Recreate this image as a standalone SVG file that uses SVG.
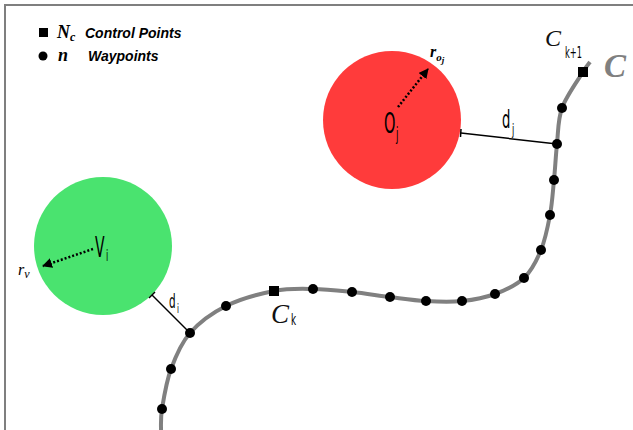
<svg xmlns="http://www.w3.org/2000/svg" width="633" height="430" viewBox="0 0 633 430">
<style>
.wp{fill:#000}
.cp{fill:#000}
.lbl{font-family:"DejaVu Sans","Liberation Sans",sans-serif;fill:#000}
.leg{font-family:"Liberation Sans",sans-serif;font-weight:bold;font-style:italic;font-size:14px;fill:#000}
.math{font-family:"Liberation Serif","DejaVu Serif",serif;font-style:italic}
.dist{stroke:#000;stroke-width:1.5;fill:none}
.dot{stroke:#000;stroke-width:2.5;stroke-dasharray:2 2;fill:none}
</style>
<defs>
<marker id="ah" viewBox="0 0 10 10" refX="9" refY="5" markerWidth="4" markerHeight="4" orient="auto" markerUnits="strokeWidth">
<path d="M0,0 L10,5 L0,10 z" fill="#000"/>
</marker>
</defs>
<rect width="633" height="430" fill="#fff"/>
<path d="M5,430 L5,5 L633,5" stroke="#7f7f7f" stroke-width="2" fill="none"/>

<g id="legend">
<rect x="39" y="28" width="9" height="9" fill="#000"/>
<text x="57" y="38" class="math" font-weight="bold" font-size="18">N<tspan font-size="12" dy="3">c</tspan></text>
<text x="85" y="38" class="leg">Control Points</text>
<circle cx="43" cy="56" r="4.5" fill="#000"/>
<text x="58" y="61" class="math" font-weight="bold" font-size="18">n</text>
<text x="88" y="61" class="leg">Waypoints</text>
</g>

<g id="obstacle-oj">
<circle cx="392" cy="120" r="69" fill="#FF3B3B"/>
<text transform="translate(384,133) scale(0.5,1)" class="lbl" font-size="29">O</text>
<text transform="translate(396,140) scale(0.5,1)" class="lbl" font-size="18">j</text>
<path d="M398,107 L428,69" class="dot" marker-end="url(#ah)"/>
<text x="430" y="57" class="math" font-weight="bold" font-size="16">r<tspan font-size="11" dy="4">o</tspan><tspan font-size="9" dy="2">j</tspan></text>
</g>

<g id="vehicle-vi">
<circle cx="103" cy="246" r="69" fill="#4AE36F"/>
<text transform="translate(95,257) scale(0.5,1)" class="lbl" font-size="28">V</text>
<text transform="translate(106,261) scale(0.5,1)" class="lbl" font-size="16">i</text>
<path d="M93,249 L43,266" class="dot" marker-end="url(#ah)"/>
<text x="18" y="275" class="math" font-size="16">r<tspan font-size="12" dy="3">v</tspan></text>
</g>

<g id="connectors">
<path d="M161,432 C161.2,428.2 160.3,419.5 162,409 C163.7,398.5 166.3,381.7 171,369 C175.7,356.3 180.8,343.5 190,333 C199.2,322.5 212,313 226,306 C240,299 259.5,293.8 274,291 C288.5,288.2 300,288.8 313,289 C326,289.2 339.2,290.7 352,292 C364.8,293.3 377.7,295.5 390,297 C402.3,298.5 414,300.3 426,301 C438,301.7 450.5,302.2 462,301 C473.5,299.8 484.7,297.8 495,294 C505.3,290.2 516.3,285.3 524,278 C531.7,270.7 536.7,260.5 541,250 C545.3,239.5 547.8,226.7 550,215 C552.2,203.3 552.8,191.8 554,180 C555.2,168.2 555.7,156 557,144 C558.3,132 557.7,120 562,108 C566.3,96 578.3,79.7 583,72 C587.7,64.3 588.8,63.7 590,62" stroke="#808080" stroke-width="4" fill="none"/>
<path d="M461,133 L557,144" class="dist"/>
<path d="M461,129 L460.5,137" class="dist"/>
<path d="M152,295 L190,333" class="dist"/>
<path d="M149,298 L155,292" class="dist"/>
</g>

<g id="waypoints">
<circle cx="162" cy="409" r="5" class="wp"/>
<circle cx="171" cy="369" r="5" class="wp"/>
<circle cx="190" cy="333" r="5" class="wp"/>
<circle cx="226" cy="306" r="5" class="wp"/>
<circle cx="313" cy="289" r="5" class="wp"/>
<circle cx="352" cy="292" r="5" class="wp"/>
<circle cx="390" cy="297" r="5" class="wp"/>
<circle cx="426" cy="301" r="5" class="wp"/>
<circle cx="462" cy="301" r="5" class="wp"/>
<circle cx="495" cy="294" r="5" class="wp"/>
<circle cx="524" cy="278" r="5" class="wp"/>
<circle cx="541" cy="250" r="5" class="wp"/>
<circle cx="550" cy="215" r="5" class="wp"/>
<circle cx="554" cy="180" r="5" class="wp"/>
<circle cx="557" cy="144" r="5" class="wp"/>
<circle cx="562" cy="108" r="5" class="wp"/>
</g>

<g id="control-ck">
<rect x="269" y="286" width="10" height="10" class="cp"/>
<text x="271" y="323" class="math" font-size="27" fill="#111">C</text>
<text transform="translate(291,325) scale(0.55,1)" class="lbl" font-size="16">k</text>
</g>

<g id="control-ck1">
<rect x="578" y="67" width="10" height="10" class="cp"/>
<text x="545" y="46" class="math" font-size="24" fill="#111">C</text>
<text transform="translate(565,58) scale(0.55,1)" class="lbl" font-size="15">k+1</text>
</g>

<g id="curve-label">
<text x="604" y="77" class="math" font-weight="bold" font-size="33" fill="#808080">C</text>
</g>

<g id="dist-labels">
<text transform="translate(502,128) scale(0.55,1)" class="lbl" font-size="24">d</text>
<text transform="translate(512,135) scale(0.55,1)" class="lbl" font-size="15">j</text>
<text transform="translate(169,308) scale(0.55,1)" class="lbl" font-size="19">d</text>
<text transform="translate(177,313) scale(0.55,1)" class="lbl" font-size="13">i</text>
</g>
</svg>
